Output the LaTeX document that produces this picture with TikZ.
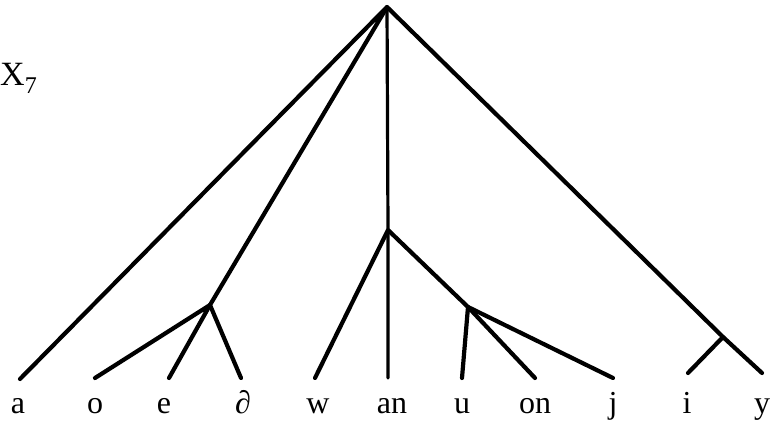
\documentclass[tikz,border=0pt]{standalone}
\usepackage{fontspec}
\setmainfont{Liberation Serif}
\usetikzlibrary{positioning}

\begin{document}
\begin{tikzpicture}[
    x=1pt, y=-1pt,
    branch/.style={line width=4.2pt, line cap=round, line join=round, black},
    stem/.style={line width=3.2pt, line cap=round, black},
    leaf/.style={anchor=base, inner sep=0pt, font=\fontsize{32}{32}\selectfont}
]
\useasboundingbox (0,0) rectangle (770,420);

% inner points of the tree
\coordinate (root) at (387,7);
\coordinate (left) at (210,305);
\coordinate (mid) at (388,230);
\coordinate (midr) at (468,307);
\coordinate (right) at (723,337);

% line ends above the labels
\coordinate (ea) at (20,379);
\coordinate (eo) at (95,378);
\coordinate (ee) at (169,378);
\coordinate (eschwa) at (241,378);
\coordinate (ew) at (315,378);
\coordinate (ean) at (388,378);
\coordinate (eu) at (462,378);
\coordinate (eon) at (535,378);
\coordinate (ej) at (613,378);
\coordinate (ei) at (688,373);
\coordinate (ey) at (762,373);

\node[leaf] (la) at (18,413) {a};
\node[leaf] (lo) at (95,413) {o};
\node[leaf] (le) at (164,413) {e};
\node[leaf] (lschwa) at (243,413) {∂};
\node[leaf] (lw) at (318,413) {w};
\node[leaf] (lan) at (392,413) {an};
\node[leaf] (lu) at (462,413) {u};
\node[leaf] (lon) at (535,413) {on};
\node[leaf] (lj) at (613,413) {j};
\node[leaf] (li) at (687,413) {i};
\node[leaf] (ly) at (762,413) {y};

\node[anchor=base west, inner sep=0pt, font=\fontsize{34}{34}\selectfont] (title)
    at (0,85) {X\raisebox{-8pt}{\fontsize{24}{24}\selectfont 7}};

\draw[branch] (ea) -- (root) -- (left);
\draw[branch] (root) -- (right) -- (ey);
\draw[stem] (root) -- (mid) -- (ean);
\draw[branch] (eo) -- (left) -- (ee);
\draw[branch] (left) -- (eschwa);
\draw[branch] (ew) -- (mid) -- (midr);
\draw[branch] (eu) -- (midr) -- (eon);
\draw[branch] (midr) -- (ej);
\draw[branch] (ei) -- (right);
\end{tikzpicture}
\end{document}
